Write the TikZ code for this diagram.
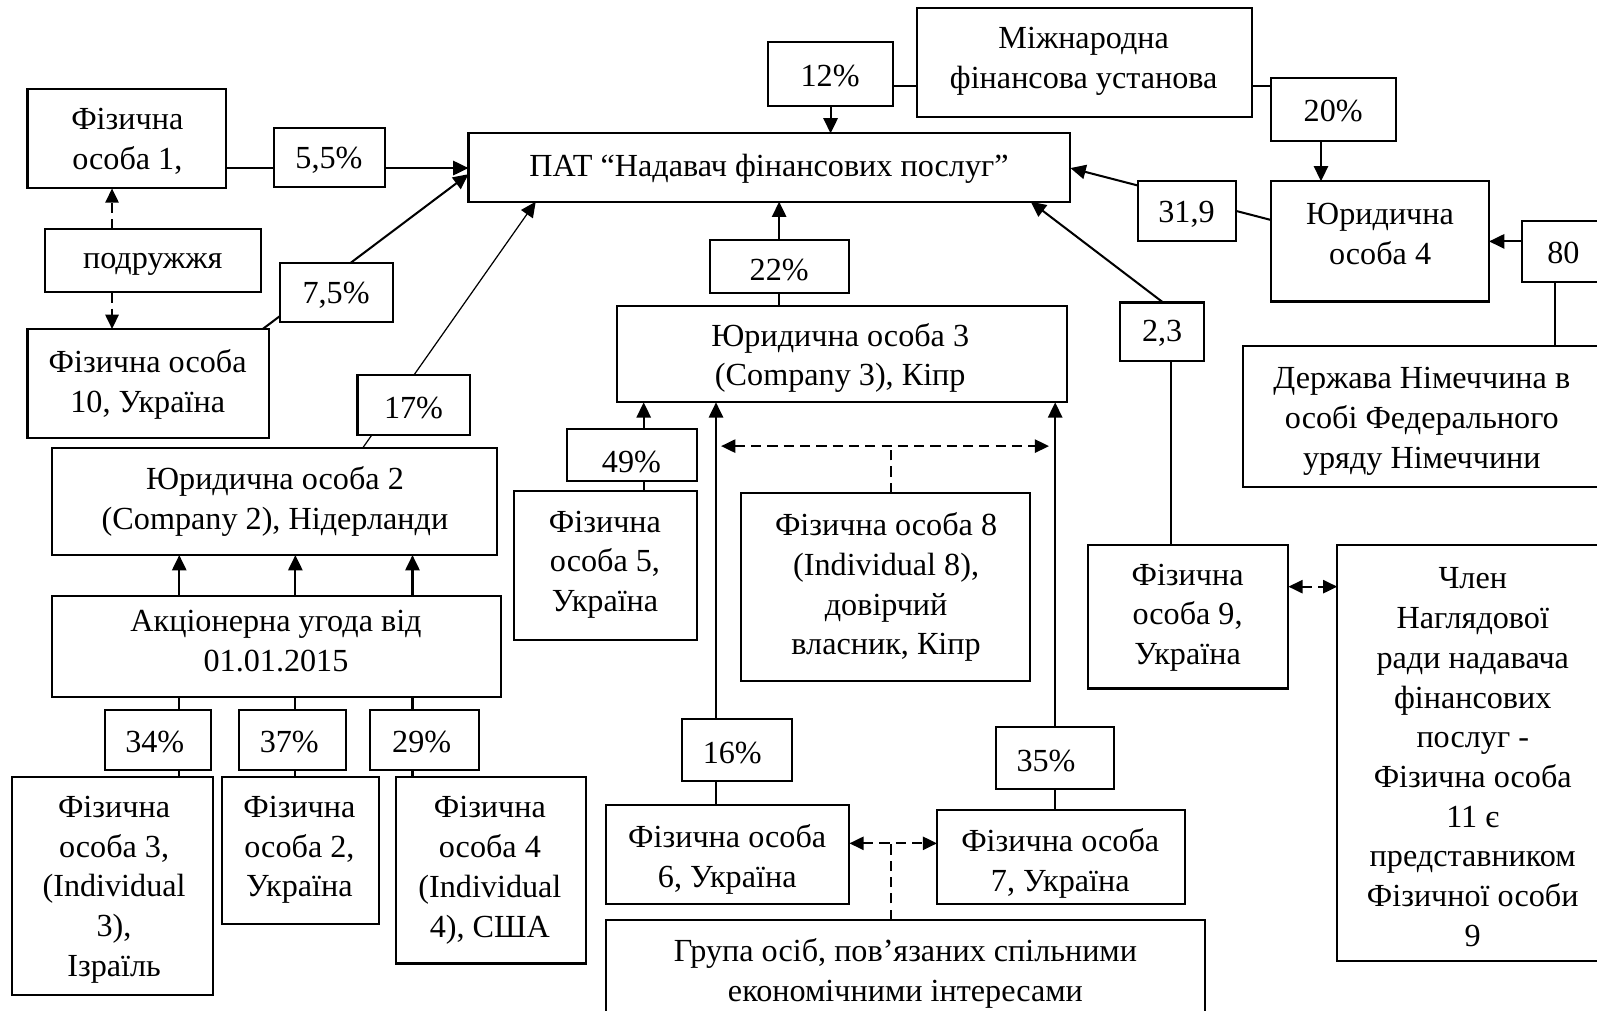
\documentclass[tikz,border=0pt]{standalone}
\usepackage{fontspec}
\setmainfont{Liberation Serif}
\usetikzlibrary{arrows.meta,backgrounds}
\tikzset{
 box/.style={draw, fill=white, line width=1pt, inner sep=0pt, outer sep=0pt},
 txt/.style={align=center, inner sep=0pt, font=\fontsize{15.8pt}{19.5pt}\selectfont},
 conn/.style={line width=1pt},
 arr/.style={line width=1pt, -{Triangle[length=7.5pt,width=7pt]}},
 thinarr/.style={line width=0.6pt, -{Triangle[length=7.5pt,width=7pt]}},
 dsh/.style={line width=1pt, dash pattern=on 5pt off 3pt},
 darr/.style={dsh, -{Triangle[length=7pt,width=6.5pt]}},
 ddarr/.style={dsh, {Triangle[length=7pt,width=6.5pt]}-{Triangle[length=7pt,width=6.5pt]}},
}
\newcommand\bx[8]{%
 \node[box, minimum width={(#4-#2)*0.5pt}, minimum height={(#5-#3)*0.5pt}] (#1) at ({(#2+#4)/2},{(#3+#5)/2}) {};
 \node[txt] (#1-t) at ({#6},{#7+2.5}) {#8};}
\begin{document}
\begin{tikzpicture}[x=0.5pt,y=-0.5pt]
\useasboundingbox (0,0) rectangle (1568,992);
\bx{mfu}{900}{8}{1229}{115}{1064}{58}{Міжнародна\\фінансова установа}
\bx{p12}{754}{41}{877}{104}{815}{72}{12\%}
\bx{p20}{1248}{77}{1371}{138}{1309}{106}{20\%}
\bx{pat}{460}{131}{1051}{198}{755}{163}{ПАТ “Надавач фінансових послуг”}
\bx{p1}{27}{87}{222}{185}{125}{136}{Фізична\\особа 1,}
\bx{p55}{269}{126}{378}{184}{323}{155}{5,5\%}
\bx{pod}{44}{225}{256}{287}{150}{257}{подружжя}
\bx{p75}{275}{258}{386}{316}{330}{287}{7,5\%}
\bx{p10}{27}{323}{264}{430}{145}{375}{Фізична особа\\10, Україна}
\bx{p17}{351}{368}{461}{427}{406}{398}{17\%}
\bx{yur2}{51}{440}{488}{545}{270}{490}{Юридична особа 2\\(Company 2), Нідерланди}
\bx{akc}{51}{585}{492}{684}{271}{627}{Акціонерна угода від\\01.01.2015}
\bx{p34}{103}{697}{207}{756}{152}{726}{34\%}
\bx{p37}{235}{697}{340}{756}{284}{726}{37\%}
\bx{p29}{363}{697}{470}{756}{414}{726}{29\%}
\bx{p3}{12}{763}{209}{977}{112}{871}{Фізична\\особа 3,\\(Individual\\3),\\Ізраїль}
\bx{p2}{218}{763}{372}{907}{294}{832}{Фізична\\особа 2,\\Україна}
\bx{p4}{389}{763}{575}{946}{481}{852}{Фізична\\особа 4\\(Individual\\4), США}
\bx{p22}{697}{236}{834}{288}{765}{263}{22\%}
\bx{yur3}{606}{300}{1048}{395}{825}{349}{Юридична особа 3\\(Company 3), Кіпр}
\bx{p49}{557}{421}{684}{472}{620}{451}{49\%}
\bx{p5}{505}{482}{684}{628}{594}{552}{Фізична\\особа 5,\\Україна}
\bx{p8}{728}{484}{1011}{669}{870}{574}{Фізична особа 8\\(Individual 8),\\довірчий\\власник, Кіпр}
\bx{p16}{670}{706}{778}{767}{719}{737}{16\%}
\bx{p35}{978}{714}{1094}{775}{1027}{745}{35\%}
\bx{p6}{595}{790}{834}{888}{714}{841}{Фізична особа\\6, Україна}
\bx{p7}{920}{795}{1163}{888}{1041}{845}{Фізична особа\\7, Україна}
\bx{grp}{595}{903}{1183}{1010}{889}{953}{Група осіб, пов’язаних спільними\\економічними інтересами}
\bx{p319}{1117}{178}{1214}{237}{1165}{208}{31,9}
\bx{yur4}{1248}{178}{1462}{296}{1355}{227}{Юридична\\особа 4}
\bx{p80}{1494}{217}{1600}{277}{1535}{246}{80}
\bx{nim}{1220}{340}{1600}{478}{1396}{411}{Держава Німеччина в\\особі Федерального\\уряду Німеччини}
\bx{p23}{1100}{297}{1182}{354}{1141}{325}{2,3}
\bx{p9}{1068}{535}{1265}{676}{1166}{604}{Фізична\\особа 9,\\Україна}
\bx{chl}{1313}{535}{1600}{944}{1446}{741}{Член\\Наглядової\\ради надавача\\фінансових\\послуг -\\Фізична особа\\11 є\\представником\\Фізичної особи\\9}
\coordinate (d8l) at (708,438);
\coordinate (d8r) at (1030,438);
\coordinate (d8j) at (875,438);
\coordinate (d67j) at (875,828);
\begin{pgfonlayer}{background}
% Fiz. osoba 1 -> PAT (5,5%)
\draw[arr] (p1.east |- 0,165) -- (pat.west |- 0,165);
% Fiz. osoba 10 -> PAT (7,5%)
\draw[arr] (p10.north -| 258,0) -- (pat.west |- 0,171);
% Yur 2 -> PAT (17%)
\draw[thinarr] (yur2.north -| 356,0) -- (pat.south -| 526,0);
% MFU -> 12% -> PAT
\draw[conn] (mfu.west |- 0,84) -- (p12.east |- 0,84);
\draw[arr] (p12.south) -- (pat.north -| p12.south);
% MFU -> 20% -> Yur 4
\draw[conn] (mfu.east |- 0,84) -- (p20.west |- 0,84);
\draw[arr] (p20.south -| 1297,0) -- (yur4.north -| 1297,0);
% Yur 4 -> PAT (31,9)
\draw[arr] (yur4.west |- 0,216) -- (pat.east |- 0,165);
% Germany -> 80 -> Yur 4
\draw[conn] (nim.north -| 1527,0) -- (p80.south -| 1527,0);
\draw[arr] (p80.west |- 0,237) -- (yur4.east |- 0,237);
% Yur 3 -> 22% -> PAT
\draw[conn] (yur3.north -| 765,0) -- (p22.south -| 765,0);
\draw[arr] (p22.north -| 765,0) -- (pat.south -| 765,0);
% Fiz 9 -> 2,3 -> PAT
\draw[conn] (p9.north -| 1150,0) -- (p23.south -| 1150,0);
\draw[arr] (p23.north -| 1142,0) -- (pat.south -| 1012,0);
% Fiz 9 <-> Chlen
\draw[ddarr] (p9.east |- 0,576) -- (chl.west |- 0,576);
% Akc -> Yur 2
\foreach \xx in {176,290,405} {\draw[arr] (akc.north -| \xx,0) -- (yur2.south -| \xx,0);}
% Fiz 3,2,4 -> % -> Akc
\draw[conn] (p3.north -| 176,0) -- (p34.south -| 176,0);
\draw[conn] (p34.north -| 176,0) -- (akc.south -| 176,0);
\draw[conn] (p2.north -| 290,0) -- (p37.south -| 290,0);
\draw[conn] (p37.north -| 290,0) -- (akc.south -| 290,0);
\draw[conn] (p4.north -| 405,0) -- (p29.south -| 405,0);
\draw[conn] (p29.north -| 405,0) -- (akc.south -| 405,0);
% Fiz 5 -> 49% -> Yur 3
\draw[conn] (p5.north -| 632,0) -- (p49.south -| 632,0);
\draw[arr] (p49.north -| 632,0) -- (yur3.south -| 632,0);
% Fiz 6 -> 16% -> Yur 3
\draw[conn] (p6.north -| 703,0) -- (p16.south -| 703,0);
\draw[arr] (p16.north -| 703,0) -- (yur3.south -| 703,0);
% Fiz 7 -> 35% -> Yur 3
\draw[conn] (p7.north -| 1036,0) -- (p35.south -| 1036,0);
\draw[arr] (p35.north -| 1036,0) -- (yur3.south -| 1036,0);
% Fiz 8 trust
\draw[ddarr] (d8l) -- (d8r);
\draw[dsh] (p8.north -| d8j) -- (d8j);
% Fiz 6 <-> Fiz 7, group
\draw[ddarr] (p6.east |- d67j) -- (p7.west |- d67j);
\draw[dsh] (grp.north -| d67j) -- (d67j);
% spouses
\draw[darr] (pod.north -| 110,0) -- (p1.south -| 110,0);
\draw[darr] (pod.south -| 110,0) -- (p10.north -| 110,0);
\end{pgfonlayer}
\end{tikzpicture}
\end{document}
